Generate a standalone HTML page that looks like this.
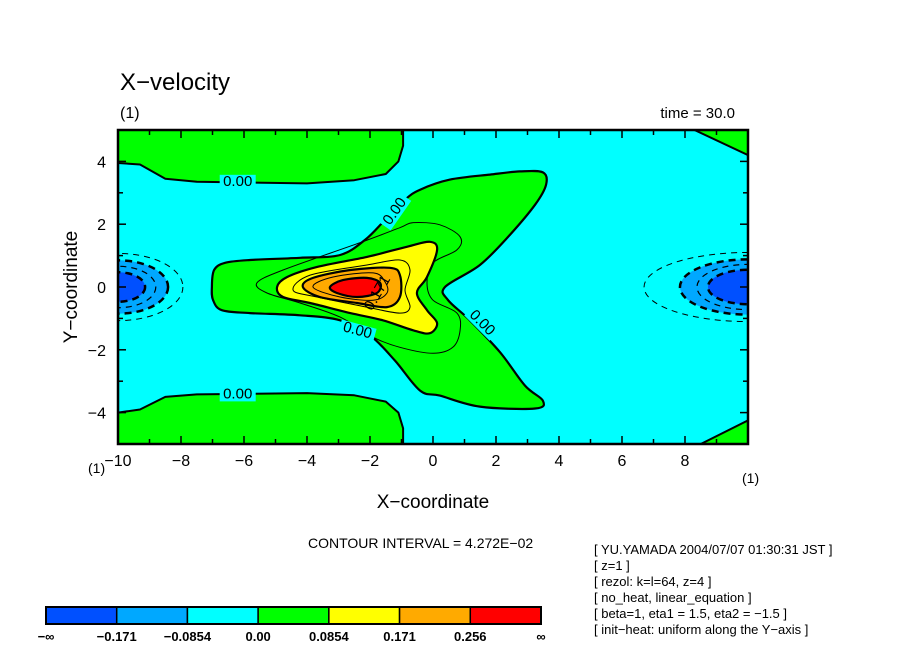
<!DOCTYPE html>
<html><head><meta charset="utf-8"><style>
body{margin:0;background:#fff;}
svg{display:block;font-family:"Liberation Sans",sans-serif;}
</style></head><body>
<svg id="chart" width="904" height="654" viewBox="0 0 904 654">
<g id="plot"></g>
<g id="axes"></g>
<text x="120" y="90" font-size="24">X−velocity</text>
<text x="120" y="118" font-size="16">(1)</text>
<text x="735" y="118" font-size="15" text-anchor="end">time = 30.0</text>
<text x="433" y="508" font-size="19" text-anchor="middle">X−coordinate</text>
<text transform="translate(77,287) rotate(-90)" font-size="19" text-anchor="middle">Y−coordinate</text>
<text x="88" y="473" font-size="14">(1)</text>
<text x="742" y="483" font-size="14">(1)</text>
<text x="308" y="548" font-size="14">CONTOUR INTERVAL = 4.272E−02</text>
<g font-size="13">
<text x="594" y="554">[ YU.YAMADA 2004/07/07 01:30:31 JST ]</text>
<text x="594" y="570">[ z=1 ]</text>
<text x="594" y="586">[ rezol: k=l=64, z=4 ]</text>
<text x="594" y="602">[ no_heat, linear_equation ]</text>
<text x="594" y="618">[ beta=1, eta1 = 1.5, eta2 = −1.5 ]</text>
<text x="594" y="634">[ init−heat: uniform along the Y−axis ]</text>
</g>
<g id="cbar"></g>
</svg>
<script>
// ---- data (data coordinates) ----
const xTicks=[-10,-8,-6,-4,-2,0,2,4,6,8];
const yTicks=[-4,-2,0,2,4];
const levelColors=['#0050ff','#00a8ff','#00ffff','#00ff00','#ffff00','#ffaa00','#ff0000'];
const levelLabels=['−∞','−0.171','−0.0854','0.00','0.0854','0.171','0.256','∞'];
const greenTopX=[-10,-10,-9.3,-8.5,-7.5,-4,-2.5,-1.5,-1.1,-0.95,-0.95];
const greenTopY=[5,3.95,3.9,3.45,3.35,3.3,3.4,3.6,4.0,4.5,5];
const greenBotX=[-10,-10,-9.3,-8.5,-7.5,-4,-2.5,-1.5,-1.1,-0.95,-0.95];
const greenBotY=[-5,-4.0,-3.9,-3.5,-3.42,-3.38,-3.45,-3.65,-4.0,-4.5,-5];
const cornerTRX=[8.3,10,10];const cornerTRY=[5,4.2,5];
const cornerBRX=[8.5,10,10];const cornerBRY=[-5,-4.25,-5];
const greenX=[-7.02,-6.95,-6.6,-5.81,-4.22,-2.95,-2.16,-1.52,-0.89,-0.41,0.54,1.81,2.76,3.49,3.59,3.24,2.44,1.49,0.38,0.48,1.17,2.13,2.92,3.49,3.24,1.49,0.22,-0.41,-1.21,-2.0,-2.95,-4.22,-5.81,-6.7,-6.98];
const greenY=[0,0.54,0.77,0.86,0.93,1.02,1.5,2.14,2.78,3.1,3.42,3.58,3.68,3.65,3.26,2.62,1.66,0.70,0,-0.42,-1.06,-2.08,-3.14,-3.62,-3.87,-3.81,-3.46,-3.3,-2.34,-1.54,-1.06,-0.9,-0.83,-0.74,-0.42];
const c1X=[-5.59,-4.76,-2.32,-1.05,-0.63,0.22,0.86,0.76,0,-0.19,0,0.76,0.86,0.63,0,-1.05,-1.90,-2.95,-4.22,-5.27];
const c1Y=[0.13,0.54,1.41,1.89,2.05,1.98,1.6,1.18,0.77,0.13,-0.42,-0.83,-1.38,-1.92,-2.11,-1.92,-1.6,-0.96,-0.51,-0.19];
const yelX=[-4.95,-4.63,-3.68,-2.10,-0.83,-0.10,0.13,-0.19,-0.51,-0.19,0.13,-0.10,-0.63,-1.59,-2.63,-3.90,-4.76];
const yelY=[0,0.32,0.64,0.96,1.28,1.44,1.18,0.32,-0.19,-0.74,-1.15,-1.47,-1.38,-1.06,-0.83,-0.51,-0.32];
const c3X=[-4.44,-3.90,-2.10,-1.05,-0.73,-0.89,-0.73,-1.05,-2.10,-3.68];
const c3Y=[-0.1,0.38,0.70,0.86,0.54,-0.1,-0.64,-0.83,-0.64,-0.32];
const orX=[-4.13,-3.81,-2.63,-1.37,-1.05,-1.05,-1.46,-2.41,-3.59];
const orY=[0,0.29,0.54,0.61,0.38,-0.32,-0.64,-0.51,-0.32];
const c5X=[-3.81,-3.17,-1.90,-1.52,-1.46,-1.90,-2.95];
const c5Y=[0,0.32,0.45,0.16,-0.19,-0.42,-0.32];
const redX=[-3.27,-2.86,-2.10,-1.68,-1.78,-2.41,-3.05];
const redY=[0,0.22,0.29,0.13,-0.19,-0.32,-0.19];
const lobeCx=[-10,10];
const lobeRx0=[2.06,3.3];
const lobeRy0=[1.07,1.1];
const lobeRx1=[1.59,2.16];
const lobeRy1=[0.85,0.88];
const lobeRx2=[1.2,1.62];
const lobeRy2=[0.66,0.72];
const lobeRx3=[0.86,1.27];
const lobeRy3=[0.47,0.55];

// ---- axes ----
const X0=118,X1=748,Y0=130,Y1=444;
const xs=v=>X0+(v+10)/20*(X1-X0);
const ys=v=>Y1-(v+5)/10*(Y1-Y0);
const NS='http://www.w3.org/2000/svg';
const plot=document.getElementById('plot'),axes=document.getElementById('axes');
function mk(tag,attrs,parent){const e=document.createElementNS(NS,tag);for(const k in attrs)e.setAttribute(k,attrs[k]);parent.appendChild(e);return e;}
function pts(X,Y){return X.map((x,i)=>xs(x).toFixed(1)+','+ys(Y[i]).toFixed(1)).join(' ');}
function smoothPath(X,Y){
 const P=X.map((x,i)=>[xs(x),ys(Y[i])]);const n=P.length;let d='M'+P[0][0].toFixed(1)+','+P[0][1].toFixed(1);
 for(let i=0;i<n;i++){const p0=P[(i-1+n)%n],p1=P[i],p2=P[(i+1)%n],p3=P[(i+2)%n];
  const c1=[p1[0]+(p2[0]-p0[0])/6,p1[1]+(p2[1]-p0[1])/6],c2=[p2[0]-(p3[0]-p1[0])/6,p2[1]-(p3[1]-p1[1])/6];
  d+=`C${c1[0].toFixed(1)},${c1[1].toFixed(1)} ${c2[0].toFixed(1)},${c2[1].toFixed(1)} ${p2[0].toFixed(1)},${p2[1].toFixed(1)}`;}
 return d+'Z';}
function poly(X,Y,fill,sw,name){const p=mk('polygon',{points:pts(X,Y),fill:fill,stroke:sw?'#000':'none','stroke-width':sw||0,'stroke-linejoin':'round'},plot);

return p;}
function spoly(X,Y,fill,sw,name){const p=mk('path',{d:smoothPath(X,Y),fill:fill,stroke:'#000','stroke-width':sw,'stroke-linejoin':'round'},plot);

return p;}
const clip=mk('clipPath',{id:'clp'},mk('defs',{},plot));
mk('rect',{x:X0,y:Y0,width:X1-X0,height:Y1-Y0},clip);
plot.setAttribute('clip-path','url(#clp)');
const bg=mk('rect',{x:X0,y:Y0,width:X1-X0,height:Y1-Y0,fill:levelColors[2]},plot);


poly(greenTopX,greenTopY,levelColors[3],2,'region-top-positive');
poly(greenBotX,greenBotY,levelColors[3],2,'region-bottom-positive');
poly(cornerTRX,cornerTRY,levelColors[3],2,'region-corner-tr');
poly(cornerBRX,cornerBRY,levelColors[3],2,'region-corner-br');
spoly(greenX,greenY,levelColors[3],2.2,'region-center-positive');
spoly(c1X,c1Y,'none',1,'contour-0.0427');
spoly(yelX,yelY,levelColors[4],2.2,'region-yellow');
spoly(c3X,c3Y,'none',1,'contour-0.128');
spoly(orX,orY,levelColors[5],2.2,'region-orange');
spoly(c5X,c5Y,'none',1,'contour-0.214');
spoly(redX,redY,levelColors[6],2.2,'region-red');
function ell(i,rx,ry,fill,sw,dash,name){
 const e=mk('ellipse',{cx:xs(lobeCx[i]),cy:ys(0),rx:rx*(X1-X0)/20,ry:ry*(Y1-Y0)/10,fill:fill,stroke:'#000','stroke-width':sw,'stroke-dasharray':dash},plot);
 
 
}
for(let i=0;i<2;i++){
 ell(i,lobeRx0[i],lobeRy0[i],'none',1,'6,5','lobe-contour-neg0.0427');
 ell(i,lobeRx1[i],lobeRy1[i],levelColors[1],2.5,'7,5','lobe-neg0.0854');
 ell(i,lobeRx2[i],lobeRy2[i],'none',1.2,'6,5','lobe-contour-neg0.128');
 ell(i,lobeRx3[i],lobeRy3[i],levelColors[0],2.5,'7,5','lobe-neg0.171');
}
function clab(x,y,rot,txt,name){const t=mk('text',{x:xs(x),y:ys(y),'font-size':15,'text-anchor':'middle','dominant-baseline':'middle',transform:`rotate(${rot},${xs(x)},${ys(y)})`},plot);t.textContent=txt;
 
 }
function bgbox(x,y,w,h,rot){mk('rect',{x:xs(x)-w/2,y:ys(y)-h/2,width:w,height:h,fill:levelColors[2],transform:`rotate(${rot},${xs(x)},${ys(y)})`},plot);}
bgbox(-6.2,3.35,36,14,0);clab(-6.2,3.35,0,'0.00','label-top-zero');
bgbox(-6.2,-3.42,36,14,0);clab(-6.2,-3.42,0,'0.00','label-bottom-zero');
bgbox(-1.2,2.4,36,14,-55);clab(-1.2,2.4,-55,'0.00','label-upper-diag');
bgbox(1.55,-1.15,36,14,45);clab(1.55,-1.15,45,'0.00','label-lower-diag');
bgbox(-2.4,-1.4,36,14,15);clab(-2.4,-1.4,15,'0.00','label-center-zero');
clab(-1.75,-0.2,-60,'0.171','label-center-max');
const fr=mk('rect',{x:X0,y:Y0,width:X1-X0,height:Y1-Y0,fill:'none',stroke:'#000','stroke-width':2.5},axes);


for(let v=-10;v<=10;v++){const major=v%2===0,l=major?8:5;
 mk('line',{x1:xs(v),x2:xs(v),y1:Y1,y2:Y1-l,stroke:'#000','stroke-width':1.5},axes);
 mk('line',{x1:xs(v),x2:xs(v),y1:Y0,y2:Y0+l,stroke:'#000','stroke-width':1.5},axes);}
for(let v=-5;v<=5;v++){const major=v%2===0,l=major?8:5;
 mk('line',{x1:X0,x2:X0+l,y1:ys(v),y2:ys(v),stroke:'#000','stroke-width':1.5},axes);
 mk('line',{x1:X1,x2:X1-l,y1:ys(v),y2:ys(v),stroke:'#000','stroke-width':1.5},axes);}
xTicks.forEach(v=>{const t=mk('text',{x:xs(v),y:Y1+22,'font-size':16,'text-anchor':'middle'},axes);t.textContent=(v<0?'−':'')+Math.abs(v);
 
 });
yTicks.forEach(v=>{const t=mk('text',{x:X0-12,y:ys(v)+6,'font-size':16,'text-anchor':'end'},axes);t.textContent=(v<0?'−':'')+Math.abs(v);
 
 });
const cb=document.getElementById('cbar');const CB0=46,CB1=541,cw=(CB1-CB0)/levelColors.length;
levelColors.forEach((c,i)=>{const r=mk('rect',{x:CB0+i*cw,y:607,width:cw,height:17,fill:c,stroke:'#000','stroke-width':1.5},cb);
 
 });
mk('rect',{x:CB0,y:607,width:CB1-CB0,height:17,fill:'none',stroke:'#000','stroke-width':2},cb);
levelLabels.forEach((s,i)=>{const t=mk('text',{x:CB0+i*cw,y:641,'font-size':13,'text-anchor':'middle','font-weight':'bold'},cb);t.textContent=s;
 
 });
</script>
</body></html>
